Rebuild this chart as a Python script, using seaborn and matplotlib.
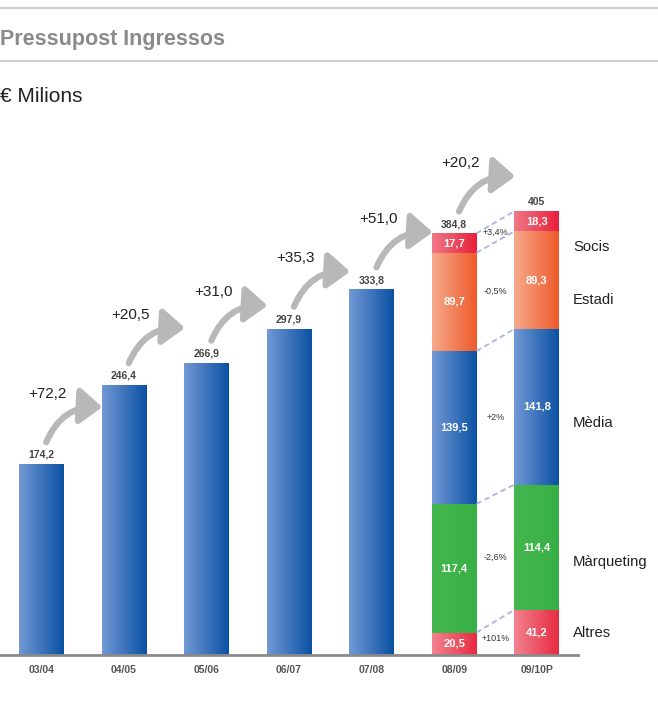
import numpy as np
import pandas as pd
import seaborn as sns
import matplotlib.pyplot as plt
from matplotlib.colors import LinearSegmentedColormap
from matplotlib.lines import Line2D

# data
seasons = ["03/04", "04/05", "05/06", "06/07", "07/08", "08/09", "09/10P"]
totals = [174.2, 246.4, 266.9, 297.9, 333.8, 384.8, 405.0]
growth = ["+72,2", "+20,5", "+31,0", "+35,3", "+51,0", "+20,2"]

segments = ["Altres", "Màrqueting", "Mèdia", "Estadi", "Socis"]
budget_0809 = [20.5, 117.4, 139.5, 89.7, 17.7]
budget_0910 = [41.2, 114.4, 141.8, 89.3, 18.3]
changes = ["+101%", "-2,6%", "+2%", "-0,5%", "+3,4%"]

# styling
blue = ("#7299d5", "#0a51a3")
seg_colors = [("#f2838f", "#e72b41"),   # Altres
              ("#44b74f", "#38b045"),   # Màrqueting
              blue,                      # Mèdia
              ("#f6aa8b", "#ee5a2b"),   # Estadi
              ("#f07888", "#e81f3a")]   # Socis
legend_y = [20, 85, 212, 324, 372]
bar_w = 0.54


def fmt(v):
    if float(v).is_integer():
        return f"{v:.0f}"
    return f"{v:.1f}".replace(".", ",")


def gradient_fill(ax, patch, cols, z):
    x0, y0 = patch.get_x(), patch.get_y()
    w, h = patch.get_width(), patch.get_height()
    cmap = LinearSegmentedColormap.from_list("g", list(cols))
    im = ax.imshow(np.linspace(0, 1, 256).reshape(1, -1), cmap=cmap,
                   extent=[x0, x0 + w, y0, y0 + h], aspect="auto",
                   interpolation="bilinear", zorder=z)
    im.set_clip_path(patch)


sns.set_style("white")
plt.rcParams["font.family"] = ["Liberation Sans", "DejaVu Sans"]

fig = plt.figure(figsize=(6.58, 7.06), dpi=100)
ax = fig.add_axes([0, 51 / 706, 578 / 658, 515 / 706])

fills = []
df_tot = pd.DataFrame({"season": seasons[:5], "total": totals[:5]})
n = len(ax.patches)
sns.barplot(data=df_tot, x="season", y="total", order=seasons, color=blue[1],
            width=bar_w, saturation=1, ax=ax)
for p in ax.patches[n:]:
    fills.append((p, blue))

# stacked bars: draw cumulative heights from top level down
cum6 = np.cumsum(budget_0809)
cum7 = np.cumsum(budget_0910)
for k in reversed(range(len(segments))):
    df = pd.DataFrame({"season": seasons[5:], "value": [cum6[k], cum7[k]]})
    n = len(ax.patches)
    sns.barplot(data=df, x="season", y="value", order=seasons,
                color=seg_colors[k][1], width=bar_w, saturation=1, ax=ax)
    for p in ax.patches[n:]:
        fills.append((p, seg_colors[k]))

for z, (p, cols) in enumerate(fills):
    if p.get_height() > 0:
        gradient_fill(ax, p, cols, 2 + z * 0.01)

# top value labels
for i, v in enumerate(totals):
    ax.annotate(fmt(v), (i, v), xytext=(0, 3), textcoords="offset points",
                ha="center", va="bottom", fontsize=7.5, fontweight="bold",
                color="#444444", zorder=5)

# segment labels, changes and connectors
lo6 = np.concatenate([[0], cum6[:-1]])
lo7 = np.concatenate([[0], cum7[:-1]])
for k, name in enumerate(segments):
    c6 = (lo6[k] + cum6[k]) / 2
    c7 = (lo7[k] + cum7[k]) / 2
    ax.text(5, c6, fmt(budget_0809[k]), ha="center", va="center", color="white",
            fontsize=8, fontweight="bold", zorder=5)
    ax.text(6, c7, fmt(budget_0910[k]), ha="center", va="center", color="white",
            fontsize=8, fontweight="bold", zorder=5)
    ax.text(5.5, (c6 + c7) / 2, changes[k], ha="center", va="center",
            fontsize=6.5, color="#333333", zorder=5)
    ax.plot([5 + bar_w / 2, 6 - bar_w / 2], [cum6[k], cum7[k]],
            ls=(0, (3, 2)), color="#a9b3e6", lw=1.3, zorder=4)
    ax.text(6.44, legend_y[k], name, ha="left", va="center", fontsize=10.7,
            color="#222222", clip_on=False)

# growth arrows
for i, g in enumerate(growth):
    top = totals[i]
    ax.annotate("", xy=(i + 0.74, top + 52), xytext=(i + 0.06, top + 20),
                arrowprops=dict(arrowstyle="-|>,head_length=0.75,head_width=0.6",
                                color="#b8b8b8", lw=4.5, mutation_scale=18,
                                shrinkA=0, shrinkB=0,
                                connectionstyle="arc3,rad=-0.35"),
                zorder=5)
    ax.text(i + 0.08, top + 64, g, ha="center", va="center", fontsize=11,
            color="#222222")

ax.set_xlim(-0.5, 6.5)
ax.set_ylim(0, 470)
ax.set_xlabel("")
ax.set_ylabel("")
ax.set_yticks([])
ax.set_xticks(range(len(seasons)))
ax.set_xticklabels(seasons, fontsize=7.5, fontweight="bold", color="#555555")
ax.set_xticks(np.arange(-0.5, 7, 1), minor=True)
ax.tick_params(axis="x", which="major", length=0, pad=7)
ax.tick_params(axis="x", which="minor", length=6, width=2, color="#8a8a8a",
               direction="out")
for s in ["top", "left", "right"]:
    ax.spines[s].set_visible(False)
ax.spines["bottom"].set_color("#8a8a8a")
ax.spines["bottom"].set_linewidth(2)
ax.set_facecolor("none")

# header
for y in [1 - 8 / 706, 1 - 61 / 706]:
    fig.add_artist(Line2D([0, 1], [y, y], color="#c6c6c6", lw=1.2,
                          transform=fig.transFigure))
fig.text(0.0, 1 - 40 / 706, "Pressupost Ingressos", fontsize=15.5,
         fontweight="bold", color="#8a8a8a", ha="left", va="center")
fig.text(0.0, 1 - 97 / 706, "€ Milions", fontsize=15, color="#222222",
         ha="left", va="center")

fig.savefig("out.png", dpi=100)
